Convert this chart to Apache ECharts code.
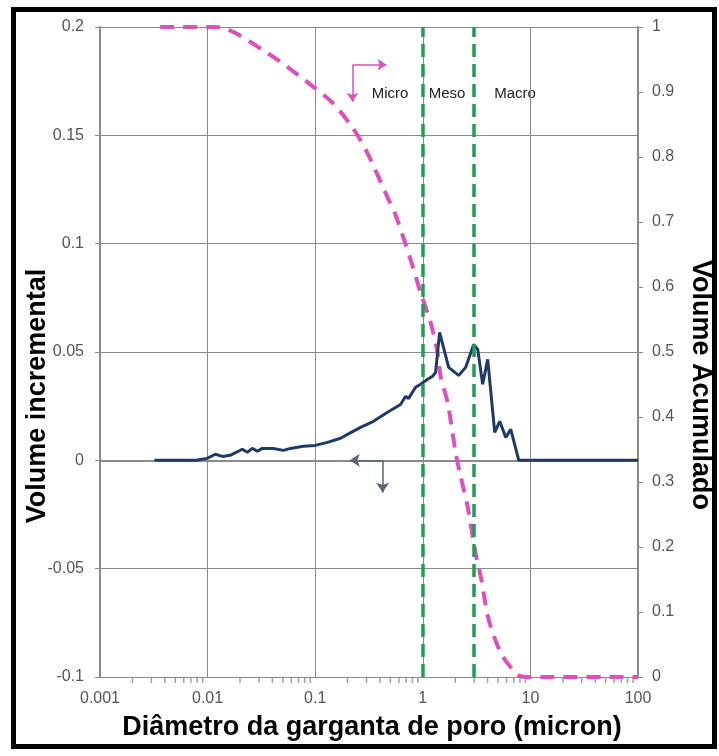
<!DOCTYPE html>
<html>
<head>
<meta charset="utf-8">
<script src="https://cdn.jsdelivr.net/npm/echarts@6/dist/echarts.min.js"></script>
<style>
  html, body { margin: 0; padding: 0; background: #fff; }
  #chart { width: 719px; height: 756px; }
</style>
</head>
<body>
<div id="chart"></div>
<script>
// diâmetro (micron) x volume incremental
const incDiameter = [0.0032, 0.0078, 0.0099, 0.0118, 0.0137, 0.0162, 0.021, 0.0234, 0.026, 0.029,
  0.0322, 0.0408, 0.0506, 0.0588, 0.0776, 0.1, 0.13, 0.172, 0.1995, 0.264, 0.348, 0.47, 0.621,
  0.692, 0.738, 0.857, 0.955, 1.109, 1.234, 1.315, 1.433, 1.738, 2.153, 2.5, 2.97, 3.24, 3.6,
  4.01, 4.66, 5.19, 5.9, 6.57, 7.8, 100];
const incVolume = [0, 0, 0.0009, 0.0028, 0.0018, 0.0023, 0.0051, 0.0037, 0.0055, 0.0042,
  0.0055, 0.0055, 0.0046, 0.0055, 0.0065, 0.0069, 0.0083, 0.0102, 0.012, 0.0152, 0.018, 0.0222, 0.0258,
  0.0295, 0.0286, 0.0337, 0.0351, 0.0374, 0.0388, 0.0406, 0.0591, 0.0429, 0.0392, 0.0429, 0.0535, 0.0512, 0.0351,
  0.0466, 0.0129, 0.018, 0.0106, 0.0143, 0, 0];

// diâmetro (micron) x volume acumulado
const accDiameter = [0.00362, 0.0118, 0.0359, 0.0962, 0.1476, 0.227, 0.306, 0.47, 0.558, 0.77,
  0.955, 1.183, 1.374, 1.466, 1.703, 2.02, 2.25, 2.61, 3.1, 3.5, 4.1, 5.3, 6.57, 7.64, 9.06, 100];
const accVolume = [1, 1, 0.96, 0.908, 0.882, 0.843, 0.806, 0.738, 0.711, 0.642,
  0.591, 0.545, 0.498, 0.462, 0.422, 0.345, 0.308, 0.262, 0.19, 0.15, 0.088, 0.037, 0.015, 0.003, 0, 0];

// limites micro / meso / macro
const classLimits = [1, 3];
const classNames = ["Micro", "Meso", "Macro"];

// marcas menores do eixo log
const minorTicks = [0.002, 0.003, 0.004, 0.005, 0.006, 0.007, 0.008, 0.009,
  0.02, 0.03, 0.04, 0.05, 0.06, 0.07, 0.08, 0.09,
  0.2, 0.3, 0.4, 0.5, 0.6, 0.7, 0.8, 0.9,
  2, 3, 4, 5, 6, 7, 8, 9,
  20, 30, 40, 50, 60, 70, 80, 90];

const FONT = '"Liberation Sans", Arial, sans-serif';
const GRAY = "#8a8a8a";
const BLUE = "#1f3a68";
const PINK = "#de4fbd";
const GREEN = "#1f9e52";

const chart = echarts.init(document.getElementById("chart"));

const zip = (xs, ys) => xs.map((x, i) => [x, ys[i]]);

chart.setOption({
  backgroundColor: "#fff",
  animation: false,
  grid: { left: 100, right: 81, top: 27, bottom: 79 },
  xAxis: {
    type: "log",
    logBase: 10,
    min: 0.001,
    max: 100,
    axisLine: { lineStyle: { color: GRAY, width: 2 } },
    axisTick: { show: true, length: 6, lineStyle: { color: GRAY } },
    axisLabel: {
      color: "#555",
      fontFamily: FONT,
      fontSize: 16,
      margin: 14,
      formatter: (v) => String(+v.toPrecision(3)),
    },
    splitLine: { show: true, lineStyle: { color: GRAY, width: 1 } },
  },
  yAxis: [
    {
      type: "value",
      min: -0.1,
      max: 0.2,
      interval: 0.05,
      position: "left",
      axisLine: { show: true, lineStyle: { color: GRAY, width: 2 } },
      axisTick: { show: true, length: 5, lineStyle: { color: GRAY } },
      axisLabel: {
        color: "#555",
        fontFamily: FONT,
        fontSize: 16,
        margin: 16,
        formatter: (v) => String(+v.toFixed(2)),
      },
      splitLine: { show: true, lineStyle: { color: GRAY, width: 1 } },
    },
    {
      type: "value",
      min: 0,
      max: 1,
      interval: 0.1,
      position: "right",
      axisLine: { show: true, lineStyle: { color: GRAY, width: 2 } },
      axisTick: { show: true, length: 5, lineStyle: { color: GRAY } },
      axisLabel: {
        color: "#555",
        fontFamily: FONT,
        fontSize: 16,
        margin: 14,
        formatter: (v) => String(+v.toFixed(1)),
      },
      splitLine: { show: false },
    },
  ],
  series: [
    {
      type: "scatter",
      data: minorTicks.map((x) => [x, -0.1]),
      symbol: "rect",
      symbolSize: [1.5, 6],
      symbolOffset: [0, 3],
      itemStyle: { color: GRAY },
      silent: true,
      clip: false,
      z: 1,
    },
    {
      name: "Volume Acumulado",
      type: "line",
      yAxisIndex: 1,
      data: zip(accDiameter, accVolume),
      showSymbol: false,
      smooth: 0.3,
      lineStyle: { color: PINK, width: 4, type: [14, 9] },
      z: 3,
      markLine: {
        silent: true,
        symbol: ["none", "none"],
        label: { show: false },
        data: [
          ...classLimits.map((x) => ({
            xAxis: x,
            lineStyle: { color: GREEN, width: 3.5, type: [13, 7] },
          })),
          [
            { coord: [0.222, 0.942], symbol: "none" },
            { coord: [0.222, 0.885], symbol: "arrow", lineStyle: { color: PINK, width: 1.5, type: "solid" } },
          ],
          [
            { coord: [0.222, 0.942], symbol: "none" },
            { coord: [0.46, 0.942], symbol: "arrow", lineStyle: { color: PINK, width: 1.5, type: "solid" } },
          ],
        ],
        symbolSize: 9,
      },
    },
    {
      name: "Volume incremental",
      type: "line",
      yAxisIndex: 0,
      data: zip(incDiameter, incVolume),
      showSymbol: false,
      lineStyle: { color: BLUE, width: 3 },
      z: 4,
      markLine: {
        silent: true,
        symbol: ["none", "arrow"],
        symbolSize: 10,
        label: { show: false },
        lineStyle: { color: "#5a6478", width: 1.5, type: "solid" },
        data: [
          [{ coord: [0.423, 0] }, { coord: [0.21, 0], itemStyle: { color: BLUE } }],
          [{ coord: [0.423, 0] }, { coord: [0.423, -0.0148], itemStyle: { color: BLUE } }],
        ],
      },
    },
  ],
  graphic: [
    {
      type: "rect",
      shape: { x: 13.5, y: 9.5, width: 701, height: 737 },
      style: { fill: null, stroke: "#000", lineWidth: 5 },
      silent: true,
    },
    {
      type: "text",
      x: 372,
      y: 728,
      style: {
        text: "Diâmetro da garganta de poro (micron)",
        font: "bold 27px " + FONT,
        fill: "#000",
        textAlign: "center",
        textVerticalAlign: "middle",
      },
    },
    {
      type: "text",
      x: 38,
      y: 396,
      rotation: Math.PI / 2,
      style: {
        text: "Volume incremental",
        font: "bold 27px " + FONT,
        fill: "#000",
        textAlign: "center",
        textVerticalAlign: "middle",
      },
    },
    {
      type: "text",
      x: 700,
      y: 385,
      rotation: -Math.PI / 2,
      style: {
        text: "Volume Acumulado",
        font: "bold 27px " + FONT,
        fill: "#000",
        textAlign: "center",
        textVerticalAlign: "middle",
      },
    },
    ...classNames.map((t, i) => ({
      type: "text",
      x: [390, 447, 515][i],
      y: 94,
      style: {
        text: t,
        font: "15px " + FONT,
        fill: "#222",
        textAlign: "center",
        textVerticalAlign: "middle",
      },
    })),
  ],
});
</script>
</body>
</html>
